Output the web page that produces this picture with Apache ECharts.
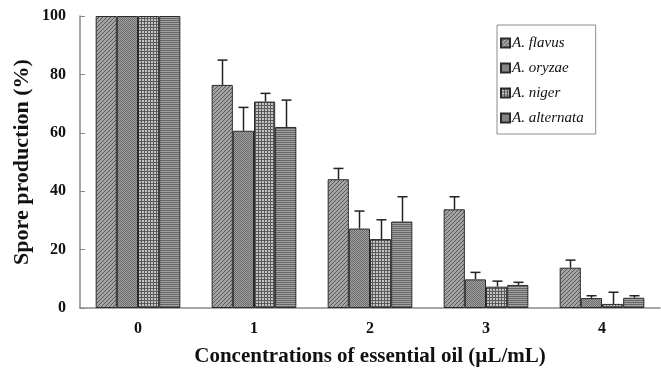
<!DOCTYPE html>
<html>
<head>
<meta charset="utf-8">
<script src="https://cdn.jsdelivr.net/npm/echarts@6/dist/echarts.min.js"></script>
<style>
 html, body { margin: 0; padding: 0; background: #fff; }
 #chart { width: 661px; height: 371px; }
</style>
</head>
<body>
<div id="chart"></div>
<script>
// data
const categories = ['0', '1', '2', '3', '4']
const seriesNames = ['A. flavus', 'A. oryzae', 'A. niger', 'A. alternata']
const flavus = [100, 76.4, 44.1, 33.8, 13.8]
const oryzae = [100, 60.7, 27.2, 9.8, 3.4]
const niger = [100, 70.7, 23.6, 7.3, 1.4]
const alternata = [100, 62, 29.6, 7.9, 3.5]
// error (upper) amounts
const flavusErr = [0, 8.5, 3.7, 4.3, 2.6]
const oryzaeErr = [0, 8, 6, 2.4, 0.8]
const nigerErr = [0, 2.8, 6.6, 1.9, 4.0]
const alternataErr = [0, 9.2, 8.5, 0.9, 0.7]
const yTicks = [0, 20, 40, 60, 80, 100]

const values = [flavus, oryzae, niger, alternata]
const errors = [flavusErr, oryzaeErr, nigerErr, alternataErr]
const catGap = 0.27

// small canvas tiles for the hatch fills
function tile(size, draw) {
 const c = document.createElement('canvas')
 c.width = size
 c.height = size
 const ctx = c.getContext('2d')
 draw(ctx)
 return { image: c, repeat: 'repeat' }
}
const patterns = [
 tile(4, ctx => { // diagonal
  ctx.fillStyle = '#a4a4a4'; ctx.fillRect(0, 0, 4, 4)
  ctx.fillStyle = '#585858'
  for (let i = 0; i < 4; i++) ctx.fillRect(3 - i, i, 1, 1)
 }),
 tile(2, ctx => { // fine dots
  ctx.fillStyle = '#a0a0a0'; ctx.fillRect(0, 0, 2, 2)
  ctx.fillStyle = '#6c6c6c'; ctx.fillRect(0, 0, 1, 1); ctx.fillRect(1, 1, 1, 1)
 }),
 tile(3, ctx => { // grid
  ctx.fillStyle = '#c4c4c4'; ctx.fillRect(0, 0, 3, 3)
  ctx.fillStyle = '#5a5a5a'; ctx.fillRect(0, 0, 3, 1); ctx.fillRect(0, 0, 1, 3)
 }),
 tile(2, ctx => { // horizontal lines
  ctx.fillStyle = '#a2a2a2'; ctx.fillRect(0, 0, 2, 2)
  ctx.fillStyle = '#666666'; ctx.fillRect(0, 0, 2, 1)
 })
]

const barSeries = seriesNames.map((name, k) => ({
 name: name,
 type: 'bar',
 data: values[k],
 barGap: '0%',
 barCategoryGap: (catGap * 100) + '%',
 itemStyle: { color: patterns[k], borderColor: '#2a2a2a', borderWidth: 1 },
 emphasis: { disabled: true },
 z: 2
}))

const errSeries = seriesNames.map((name, k) => ({
 type: 'custom',
 silent: true,
 z: 3,
 data: values[k].map((v, i) => [i, v, errors[k][i]]),
 renderItem: function (params, api) {
  const err = api.value(2)
  if (!err) return null
  const base = api.coord([api.value(0), api.value(1)])
  const top = api.coord([api.value(0), api.value(1) + err])
  const band = api.size([1, 0])[0]
  const bw = band * (1 - catGap) / 4
  const x = Math.round(base[0] + (k - 1.5) * bw) + 0.5
  const style = { stroke: '#222', lineWidth: 1.5, fill: null }
  return {
   type: 'group',
   children: [
    { type: 'line', shape: { x1: x, y1: base[1], x2: x, y2: top[1] }, style: style },
    { type: 'line', shape: { x1: x - 5, y1: top[1], x2: x + 5, y2: top[1] }, style: style }
   ]
  }
 }
}))

const font = '"Liberation Serif", "Times New Roman", serif'
const chart = echarts.init(document.getElementById('chart'))
chart.setOption({
 animation: false,
 grid: { left: 80, right: 1, top: 16, bottom: 63, outerBoundsMode: 'none', containLabel: false },
 legend: {
  orient: 'vertical',
  left: 497,
  top: 25,
  data: seriesNames,
  icon: 'rect',
  itemWidth: 9,
  itemHeight: 9,
  itemGap: 9,
  padding: [10, 12, 8, 3],
  borderColor: '#8c8c8c',
  borderWidth: 1,
  textStyle: { fontFamily: font, fontStyle: 'italic', fontSize: 15, color: '#111', lineHeight: 16, padding: [0, 0, 0, -3] }
 },
 xAxis: {
  type: 'category',
  data: categories,
  name: 'Concentrations of essential oil (\u00b5L/mL)',
  nameLocation: 'middle',
  nameGap: 38,
  nameTextStyle: { fontFamily: font, fontWeight: 'bold', fontSize: 21, color: '#111' },
  axisLine: { lineStyle: { color: '#8a8a8a', width: 1.5 } },
  axisTick: { inside: true, length: 5, lineStyle: { color: '#8a8a8a' } },
  axisLabel: { fontFamily: font, fontWeight: 'bold', fontSize: 16, color: '#111', margin: 13 }
 },
 yAxis: {
  type: 'value',
  min: yTicks[0],
  max: yTicks[yTicks.length - 1],
  interval: 20,
  name: 'Spore production (%)',
  nameLocation: 'middle',
  nameGap: 47,
  nameMoveOverlap: false,
  nameTextStyle: { fontFamily: font, fontWeight: 'bold', fontSize: 22, color: '#111' },
  splitLine: { show: false },
  axisLine: { show: true, lineStyle: { color: '#8a8a8a', width: 1.5 } },
  axisTick: { show: true, inside: true, length: 5, lineStyle: { color: '#8a8a8a' } },
  axisLabel: { fontFamily: font, fontWeight: 'bold', fontSize: 16, color: '#111', margin: 14 }
 },
 series: barSeries.concat(errSeries)
})
</script>
</body>
</html>
